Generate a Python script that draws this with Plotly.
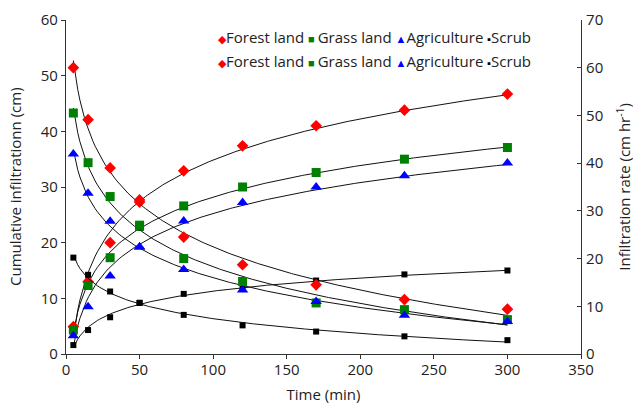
import numpy as np
import plotly.graph_objects as go

time_min = [5, 15, 30, 50, 80, 120, 170, 230, 300]

# Cumulative infiltration (cm) - left axis
forest_cum = [4.9, 13.0, 20.0, 27.3, 32.9, 37.4, 41.0, 43.8, 46.7]
grass_cum = [4.3, 12.3, 17.3, 22.9, 26.6, 30.0, 32.6, 35.0, 37.1]
agri_cum = [3.3, 8.5, 14.0, 19.2, 23.9, 27.2, 30.0, 32.0, 34.3]
scrub_cum = [1.6, 4.3, 6.6, 9.2, 10.8, 11.7, 13.2, 14.3, 15.0]

# Infiltration rate (cm hr-1) - right axis
forest_rate = [60.0, 49.1, 39.0, 32.3, 24.5, 18.7, 14.5, 11.4, 9.4]
grass_rate = [50.5, 40.1, 33.0, 27.0, 20.0, 15.2, 10.7, 9.3, 7.2]
agri_rate = [41.9, 33.7, 27.8, 22.4, 17.7, 13.4, 11.0, 8.1, 6.8]
scrub_rate = [20.2, 16.6, 13.1, 10.7, 8.2, 6.0, 4.7, 3.7, 2.9]

series_names = ["Forest land", "Grass land", "Agriculture", "Scrub"]
colors = ["#ff0000", "#008000", "#0000ff", "#000000"]
symbols = ["diamond", "square", "triangle-up", "square"]
sizes = [9, 9, 10, 6]
glyphs = ["\u25c6", "\u25a0 ", "\u25b2", "\u25aa"]

FONT = "Open Sans"
TXT = "#222"

fig = go.Figure()

t = np.array(time_min, dtype=float)
t_fit = np.linspace(5, 300, 200)


def log_fit(y):
    b, a = np.polyfit(np.log(t), np.array(y, dtype=float), 1)
    return a + b * np.log(t_fit)


cum_sets = [forest_cum, grass_cum, agri_cum, scrub_cum]
rate_sets = [forest_rate, grass_rate, agri_rate, scrub_rate]

# logarithmic trend lines
for y in cum_sets:
    fig.add_trace(go.Scatter(x=t_fit, y=log_fit(y), mode="lines",
                             line=dict(color="#111", width=1), showlegend=False,
                             hoverinfo="skip"))
for y in rate_sets:
    fig.add_trace(go.Scatter(x=t_fit, y=log_fit(y), mode="lines",
                             line=dict(color="#111", width=1), showlegend=False,
                             hoverinfo="skip", yaxis="y2"))

for name, y, c, s, sz in zip(series_names, cum_sets, colors, symbols, sizes):
    fig.add_trace(go.Scatter(x=time_min, y=y, mode="markers", name=name,
                             marker=dict(color=c, symbol=s, size=sz), showlegend=False))
for name, y, c, s, sz in zip(series_names, rate_sets, colors, symbols, sizes):
    fig.add_trace(go.Scatter(x=time_min, y=y, mode="markers", name=name, yaxis="y2",
                             marker=dict(color=c, symbol=s, size=sz), showlegend=False))

legend_parts = []
for name, c, g in zip(series_names, colors, glyphs):
    legend_parts.append(f'<span style="color:{c};font-size:11px">{g}</span>{name}')
legend_text = " ".join(legend_parts)

for yp in [0.948, 0.876]:
    fig.add_annotation(x=0.292, y=yp, xref="paper", yref="paper", xanchor="left",
                       yanchor="middle", text=legend_text, showarrow=False,
                       font=dict(family=FONT, size=15, color=TXT))

# axis titles
fig.add_annotation(x=-0.099, y=0.5, xref="paper", yref="paper", xanchor="center",
                   yanchor="middle", textangle=-90, showarrow=False,
                   text="Cumulative infiltrationn (cm)",
                   font=dict(family=FONT, size=15, color=TXT))
fig.add_annotation(x=1.081, y=0.5, xref="paper", yref="paper", xanchor="center",
                   yanchor="middle", textangle=-90, showarrow=False,
                   text="Infiltration rate (cm hr<sup>-1</sup>)",
                   font=dict(family=FONT, size=15, color=TXT))

axis_common = dict(showgrid=False, zeroline=False, showline=True, linecolor="#333",
                   linewidth=1.2, tickfont=dict(family=FONT, size=15, color=TXT),
                   tickcolor="#333", ticklen=4, automargin=False)

fig.update_layout(
    width=633, height=410,
    margin=dict(l=66, r=52, t=20, b=56),
    paper_bgcolor="white", plot_bgcolor="white",
    showlegend=False,
    xaxis=dict(range=[0, 350], dtick=50, ticks="outside", ticklabelstandoff=-2,
               title=dict(text="Time (min)", font=dict(family=FONT, size=15, color=TXT),
                          standoff=11),
               **axis_common),
    yaxis=dict(range=[0, 60], dtick=10, ticks="outside", **axis_common),
    yaxis2=dict(range=[0, 70], dtick=10, ticks="inside", overlaying="y", side="right",
                ticklabelstandoff=1, **axis_common),
)

fig.write_html("out.html", config={"displayModeBar": False},
               post_script="document.body.style.margin='0px';")
